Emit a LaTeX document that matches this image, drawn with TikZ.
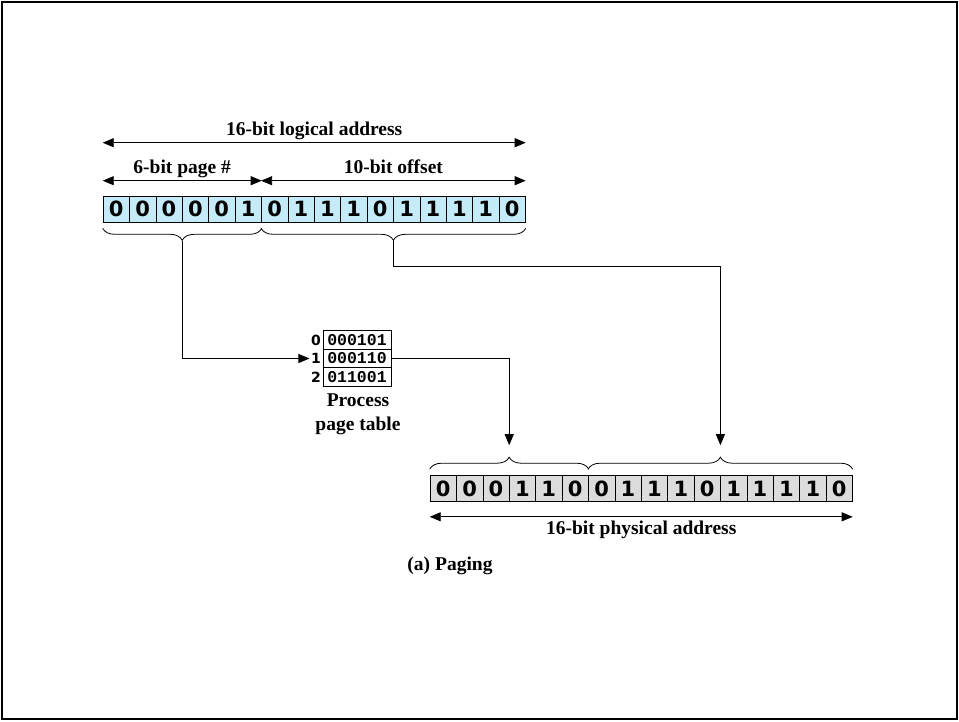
\documentclass[tikz,border=0pt]{standalone}
\usepackage{fontspec}
\setmainfont{Liberation Serif}
\newfontfamily\bitfont{DejaVu Sans}
\newfontfamily\tabfont{Liberation Mono}
\usetikzlibrary{arrows.meta,decorations.pathreplacing,calc}
\definecolor{logblue}{RGB}{197,234,248}
\definecolor{phygray}{RGB}{220,220,220}
\begin{document}
\begin{tikzpicture}[x=1pt,y=-1pt,
 lbl/.style={font=\fontsize{19.5}{24}\selectfont\bfseries},
 dimlbl/.style={lbl,anchor=base,inner sep=0pt,yshift=7pt},
 bitcell/.style={draw,line width=0.6pt,minimum width=26.4pt,minimum height=26pt,inner sep=0pt,font=\fontsize{21}{21}\bitfont\bfseries},
 logc/.style={bitcell,fill=logblue},
 phyc/.style={bitcell,fill=phygray},
 tabrow/.style={draw,line width=0.8pt,minimum width=68pt,minimum height=18.3pt,inner sep=0pt,font=\fontsize{16.5}{16.5}\tabfont\bfseries},
 idx/.style={inner sep=1.5pt,font=\fontsize{14}{14}\bitfont\bfseries},
 dim/.style={{Triangle[length=11pt,width=9pt]}-{Triangle[length=11pt,width=9pt]},line width=0.8pt},
 conn/.style={-{Triangle[length=11pt,width=9pt]},line width=0.8pt},
 brc/.style={decorate,decoration={brace,amplitude=12pt},line width=0.8pt},
]
\useasboundingbox (0,0) rectangle (959,721);
\draw[line width=2.5pt] (2,2) rectangle (957,719);

% logical address
\foreach \b [count=\i] in {0,0,0,0,0,1,0,1,1,1,0,1,1,1,1,0}
  \node[logc] (l\i) at ({103+26.4*(\i-0.5)},209) {\b};
% physical address
\foreach \b [count=\i] in {0,0,0,1,1,0,0,1,1,1,0,1,1,1,1,0}
  \node[phyc] (p\i) at ({430+26.4*(\i-0.5)},488.5) {\b};

% dimension arrows
\draw[dim] ([yshift=53pt]l1.north west) -- ([yshift=53pt]l16.north east)
  node[midway,dimlbl] (tlog) {16-bit logical address};
\draw[dim] ([yshift=15pt]l1.north west) -- ([yshift=15pt]l6.north east)
  node[midway,dimlbl] (tpage) {6-bit page \#};
\draw[dim] ([yshift=15pt]l7.north west) -- ([yshift=15pt]l16.north east)
  node[midway,dimlbl] (toff) {10-bit offset};
\draw[dim] ([yshift=-15pt]p1.south west) -- ([yshift=-15pt]p16.south east)
  node[midway,below,lbl,inner sep=4pt] (tphy) {16-bit physical address};

% braces below logical
\draw[brc,decoration={mirror}] ([yshift=-6pt]l1.south west) -- ([yshift=-6pt]l6.south east);
\draw[brc,decoration={mirror}] ([yshift=-6pt]l7.south west) -- ([yshift=-6pt]l16.south east);
\coordinate (bt1) at ($(l1.south west)!0.5!(l6.south east)+(0,19)$);
\coordinate (bt2) at ($(l7.south west)!0.5!(l16.south east)+(0,19)$);

% braces above physical
\draw[brc] ([yshift=6pt]p1.north west) -- ([yshift=6pt]p6.north east);
\draw[brc] ([yshift=6pt]p7.north west) -- ([yshift=6pt]p16.north east);
\coordinate (pt1) at ($(p1.north west)!0.5!(p6.north east)+(0,-30)$);
\coordinate (pt2) at ($(p7.north west)!0.5!(p16.north east)+(0,-30)$);

% page table
\node[tabrow] (t0) at (357,340) {000101};
\node[tabrow] (t1) at (357,358.5) {000110};
\node[tabrow] (t2) at (357,377) {011001};
\node[idx,anchor=east] (i0) at (t0.west) {0};
\node[idx,anchor=east] (i1) at (t1.west) {1};
\node[idx,anchor=east] (i2) at (t2.west) {2};
\node[lbl,align=center,anchor=north] (ptab) at (358,390) {Process\\page table};

% connectors
\draw[conn] (bt1) |- (i1.west);
\draw[conn] (t1.east) -| (pt1);
\draw[conn] (bt2) -- ++(0,25) -| (pt2);

\node[lbl] (cap) at (450,566) {(a) Paging};
\end{tikzpicture}
\end{document}
